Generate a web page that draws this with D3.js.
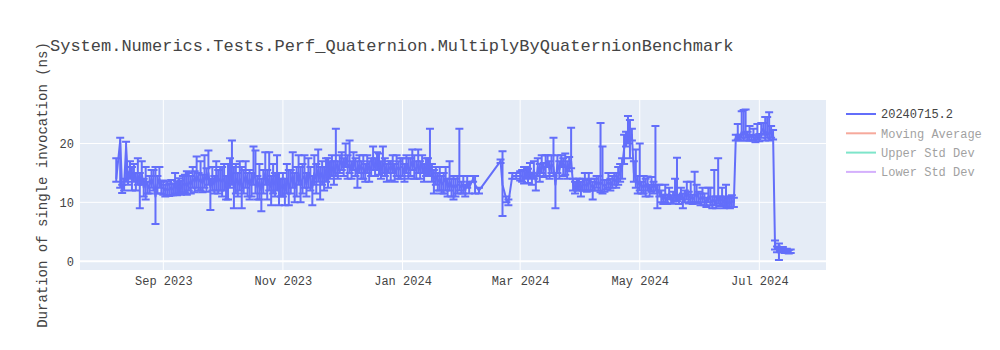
<!DOCTYPE html>
<html>
<head>
<meta charset="utf-8">
<title>Perf_Quaternion.MultiplyByQuaternionBenchmark</title>
<script src="https://d3js.org/d3.v7.min.js"></script>
<style>
  body { margin: 0; background: #fff; }
  text { font-family: "Liberation Mono", "Courier New", monospace; fill: #444; }
</style>
</head>
<body>
<div id="chart"></div>
<script>

// each row: [day of month, duration ns, error plus, error minus]
var aug2023 = [[8,14,3.5,0.5],[10,20.5,0.5,8],[11,12.3,0.7,0.7],[12,13,1,1],[13,19.5,0.8,6],[14,14,1,1],[15,15.5,1.5,1.5],[16,14,2,2],[17,15,1.5,1.5],[18,13.5,1.5,1.5],[19,14.5,3,1.5],[20,13,2,4],[21,15,2,2],[22,12.5,1.5,1.5],[23,14,2,3.5],[24,12.5,1,1],[25,13,1.5,1.5],[26,14,1.5,1.5],[27,13,2.5,1],[28,11,5,4.7],[29,13,1.5,1.5],[30,14,2,1.5],[31,12.5,1,1]];
var sep2023 = [[1,12.5,1.2,1.2],[2,12,1,1],[3,12.3,1.2,1.2],[4,12.1,1,1],[5,12.5,1.3,1.3],[6,12.2,1,1],[7,13,2,1.5],[8,12.4,1.2,1.2],[9,12.8,1.3,1.3],[10,12.5,1.2,1.2],[11,13,1.5,1.5],[12,13.2,1.5,1.5],[13,12.8,2.5,1.5],[14,13.5,1.5,1.5],[15,13,1.5,1.5],[16,14,2,1.5],[17,13.5,1.8,1.8],[18,14.5,3.3,2],[19,13.5,1.5,1.5],[20,14,3,2],[21,13.2,1.5,1.5],[22,14.5,3.5,2],[23,13.8,2,2],[24,15,3.8,2],[25,12.5,1.5,3.8],[26,14,2,2],[27,13,1.5,1.5],[28,14.5,2.5,2.5],[29,13.5,2,2],[30,14,2,2]];
var oct2023 = [[1,13.5,2.5,2.5],[2,14,2.5,2],[3,12.5,2,2],[4,13.5,3,3],[5,14.5,3,2],[6,15,5.5,2],[7,12.5,3.5,3.5],[8,14,2.5,2.5],[9,13,2,2],[10,14,3,2],[11,12.5,3.5,3.5],[12,13.5,2,2],[13,14.5,2.5,2],[14,13,2,2],[15,14,1.5,3.5],[16,13,2,2],[17,15,4.5,2],[18,14,4.8,2.5],[19,12.5,2,2],[20,13.5,3,3],[21,12,2,3.5],[22,13.5,2,2],[23,15,3.5,2],[24,13,2.5,2.5],[25,14,4.5,2],[26,12.5,2,3],[27,14,2.5,2.5],[28,13,2,2],[29,14.5,3.5,2.5],[30,13,2,3.5],[31,12.5,1.5,1.5]];
var nov2023 = [[1,13,2,2],[2,12,2,2.5],[3,14,2.5,2.5],[4,12.5,3,3],[5,13.5,2,2],[6,14.5,4,2],[7,12.5,2.5,2.5],[8,13.5,2.5,2.5],[9,15,3,2],[10,13,3,3],[11,14,2.5,2.5],[12,14.5,3.5,2],[13,13,2,2],[14,15,2.5,2.5],[15,14,2,2],[16,12.5,2,3],[17,15,3,2],[18,14,2.5,2.5],[19,15.5,3.5,2],[20,14,2,3.5],[21,15,2,2],[22,14,2,2],[23,15.5,2,2],[24,14.5,3,2],[25,15.5,1.5,1.5],[26,16,2,1.5],[27,15,2,2],[28,16.5,6,2],[29,15.5,1.5,1.5],[30,16.5,1.5,1.5]];
var dec2023 = [[1,17,1.5,1.5],[2,16,1.5,1.5],[3,17.5,2.5,1.5],[4,16,2,2],[5,16.5,4,1.5],[6,15.5,1.5,1.5],[7,17,1.5,1.5],[8,16,1.5,1.5],[9,15,2,2.5],[10,16.5,1.5,1.5],[11,15.5,1.5,1.5],[12,16,2,2],[13,15,1.5,1.5],[14,16.5,1.5,1.5],[15,15.5,1.5,2],[16,16,1.5,1.5],[17,17,2.5,1.5],[18,16,1.5,1.5],[19,17,1.5,1.5],[20,16.5,1.8,1.8],[21,15.5,1.5,1.5],[22,16.5,3,1.5],[23,16,1.5,1.5],[24,15,1.5,1.5],[25,16,1,1],[26,15.5,1.5,1.8],[27,16.5,1.5,1.5],[28,15,1.5,1.5],[29,16,2,1.5],[30,15.5,1.5,1.5],[31,16,1.5,2]];
var jan2024 = [[1,16,1.5,1.5],[2,15,1.5,1.5],[3,16.5,1.5,1.5],[4,15.5,2,1.5],[5,16,1.5,1.5],[6,17,2,1.5],[7,16,2,2],[8,15.5,1.5,1.5],[9,16.5,2.5,1.5],[10,15.5,1.5,1.5],[11,16.5,1.5,1.5],[12,15,1.5,1.5],[13,16,1.5,1.5],[14,16,1.5,1.5],[15,16,6.5,1.5],[16,15,1.5,1.5],[17,14,1.5,2.5],[18,14.5,1.5,1.5],[19,13.5,1.5,1.5],[20,14,2,2],[21,13,1.5,1.5],[22,13.5,1.5,2],[23,14,2,2],[24,12.5,1.5,1.5],[25,13.5,3.5,1.5],[26,12.5,1.5,1.5],[27,13,1.5,2.5],[28,12.5,1.5,1.5],[29,13,1.5,1.5],[30,13,9.5,1],[31,12.5,1,1]];
var feb2024 = [[1,13,1.5,1.5],[2,12,1,1],[3,13.5,1,1],[4,12.5,1,1],[6,14,0.5,0.5],[7,13,1.5,1.5],[9,12,0.5,0.5],[20,17,0.3,0.3],[21,13,5.7,5.3],[23,10.5,0.5,0.5],[24,10,0.5,0.5],[26,14.5,0.5,0.5],[28,14.5,0.5,0.5]];
var mar2024 = [[1,14.5,0.8,0.8],[2,14.5,1,1],[3,14,2,0.8],[4,15,1,1],[5,14.5,1.2,1.2],[6,15.5,1.2,1.2],[7,14,1,1],[8,15.5,1.5,1.5],[9,13.5,1,1.5],[10,16,1.5,1.5],[11,15,1.5,1.5],[12,16.5,1.5,1.5],[13,15.5,1.2,1.2],[14,16,2,1.5],[15,17,1,1],[16,15.5,1.5,1.5],[17,16.5,1.5,1.5],[18,16,5,1.5],[19,13,2,4],[20,16.5,1.5,1.5],[21,15.5,1.5,1.5],[22,17,1,1],[23,16,1.5,1.5],[24,16.5,1.8,1.8],[25,15.5,1.5,1.5],[26,16.5,1.2,1.2],[27,17,5.7,1.2],[28,13,1,1],[29,12.5,1,1],[30,13,1,1],[31,13,1,1]];
var apr2024 = [[1,12.5,1,1.5],[2,13,1,1],[3,13,2,1],[4,12.8,1,1],[5,13.5,1.5,1.5],[6,13,1,1],[7,12.5,1,2],[8,13,1,1],[9,13.5,1,1],[10,13,1.5,1],[11,13.5,10,1.8],[12,13,6.5,1.5],[13,12.8,1,1],[14,13,0.8,0.8],[15,13.5,1.5,1],[16,13,1,1],[17,13.5,1,1],[18,14,1,1],[19,13.5,1.5,1],[20,14.5,1.5,1.5],[21,15,1.5,1.5],[22,16,1.5,2],[23,19,2.5,2.5],[24,21,1,1.5],[25,22,2.7,2],[26,20.5,3.5,3],[27,21.5,1,1],[28,15,2,1.5],[29,14,5,1.5],[30,13,1.5,1.5]];
var may2024 = [[1,13.5,6.5,1.5],[2,12.5,1,1],[3,13,1.5,1.5],[4,12.5,1.5,1.5],[5,13.2,1.2,1.2],[6,12,1,1],[7,12.8,1.5,1],[8,12.5,1,1],[9,13,10,1],[10,11.5,1.5,2.5],[11,12,1,1],[12,11,1,1],[13,10.5,0.8,0.8],[14,11,2,1],[15,10.5,0.8,0.8],[16,11.5,1,1],[17,10.5,0.7,0.7],[18,10.8,1,1],[19,11,3,0.8],[20,11,6.6,0.8],[21,10.5,0.8,0.8],[22,11.5,1,1],[23,10.5,1,1.5],[24,11,1,1],[25,11.5,2,1],[26,10.8,1,1],[27,11,2.5,1],[28,10.5,0.8,0.8],[29,11,4.2,1],[30,11.5,1.5,1.5],[31,10.8,1,1]];
var jun2024 = [[1,10.5,1,1],[2,11,1.5,1],[3,10.5,1,1],[4,10,0.8,0.8],[5,11,1.5,1],[6,10.5,2,1],[7,10,1,1],[8,10.5,5,1],[9,10,1,1],[10,11,6.5,1.2],[11,10.2,0.8,0.8],[12,10.5,2,1],[13,10,1,1],[14,10.5,2.5,1.2],[15,10,0.8,0.8],[16,9.8,1.2,0.8],[17,10.2,1,1],[18,10,0.8,0.8],[19,21,0.5,0.5],[20,21.5,1.8,0.8],[21,21,0.5,0.5],[22,22,3.5,1],[23,21.5,4.2,1],[24,22,3.8,1],[25,21,1,0.5],[26,21.5,1.5,1],[27,21,0.5,0.5],[28,21.2,1.3,0.7],[29,20.8,0.6,0.6],[30,21.5,1.8,0.8]];
var jul2024 = [[1,21,0.6,0.6],[2,22,1.5,1],[3,22.5,1,1],[4,21.5,3,1],[5,22,2.5,1],[6,21.5,3.8,1],[7,22,1,1],[8,21.5,0.8,0.8],[9,2.5,1,0.5],[10,2,0.5,0.5],[11,2.2,0.8,2],[12,1.8,0.3,0.3],[13,2,0.4,0.4],[14,1.7,0.3,0.3],[15,1.8,0.3,0.3],[16,1.6,0.3,0.3],[17,1.7,0.3,0.3]];

var months = [["2023-08", aug2023], ["2023-09", sep2023], ["2023-10", oct2023], ["2023-11", nov2023],
              ["2023-12", dec2023], ["2024-01", jan2024], ["2024-02", feb2024], ["2024-03", mar2024],
              ["2024-04", apr2024], ["2024-05", may2024], ["2024-06", jun2024], ["2024-07", jul2024]];

var tickDates = ["2023-09-01", "2023-11-01", "2024-01-01", "2024-03-01", "2024-05-01", "2024-07-01"];
var yTicks = [0, 10, 20];
var legendNames = ["20240715.2", "Moving Average", "Upper Std Dev", "Lower Std Dev"];
var legendColors = ["#636efa", "#EF553B", "#00cc96", "#ab63fa"];
var chartTitle = "System.Numerics.Tests.Perf_Quaternion.MultiplyByQuaternionBenchmark";
var yTitle = "Duration of single invocation (ns)";

(function() {
    var parseDay = d3.utcParse("%Y-%m-%d");
    var data = [];
    months.forEach(function(m) {
        m[1].forEach(function(r) {
            var dd = r[0] < 10 ? "0" + r[0] : "" + r[0];
            data.push({date: parseDay(m[0] + "-" + dd), v: r[1], up: r[2], dn: r[3]});
        });
    });

    var W = 1000, H = 350;
    var pl = 80, pr = 826, pt = 100, pb = 270;

    var svg = d3.select("#chart").append("svg").attr("width", W).attr("height", H);

    var x = d3.scaleUtc()
        .domain([Date.UTC(2023, 6, 20, 12), Date.UTC(2024, 7, 4)])
        .range([pl, pr]);
    var y = d3.scaleLinear().domain([-1.5, 27.4]).range([pb, pt]);

    // plot background
    svg.append("rect").attr("x", pl).attr("y", pt)
        .attr("width", pr - pl).attr("height", pb - pt).attr("fill", "#e5ecf6");

    var grid = svg.append("g");
    grid.selectAll("line.vx").data(tickDates.map(parseDay)).enter().append("line")
        .attr("x1", function(d){ return x(d); }).attr("x2", function(d){ return x(d); })
        .attr("y1", pt).attr("y2", pb)
        .attr("stroke", "#fff").attr("stroke-width", 1);
    grid.selectAll("line.hy").data(yTicks).enter().append("line")
        .attr("x1", pl).attr("x2", pr)
        .attr("y1", function(d){ return y(d); }).attr("y2", function(d){ return y(d); })
        .attr("stroke", "#fff").attr("stroke-width", function(d){ return d === 0 ? 2 : 1; });

    // axes
    var xAxis = d3.axisBottom(x).tickValues(tickDates.map(parseDay))
        .tickFormat(d3.utcFormat("%b %Y")).tickSize(0).tickPadding(6);
    var gx = svg.append("g").attr("transform", "translate(0," + pb + ")").call(xAxis);
    var yAxis = d3.axisLeft(y).tickValues(yTicks).tickSize(0).tickPadding(6);
    var gy = svg.append("g").attr("transform", "translate(" + pl + ",0)").call(yAxis);
    [gx, gy].forEach(function(g) {
        g.select(".domain").remove();
        g.selectAll("text").style("font-size", "12px").attr("fill", "#444")
            .style("font-family", "'Liberation Mono', 'Courier New', monospace");
    });

    // clip
    svg.append("clipPath").attr("id", "plotclip").append("rect")
        .attr("x", pl).attr("y", pt).attr("width", pr - pl).attr("height", pb - pt);
    var plot = svg.append("g").attr("clip-path", "url(#plotclip)");

    var blue = legendColors[0];

    // error bars
    var eb = plot.append("g").attr("stroke", blue).attr("stroke-width", 2).attr("fill", "none");
    eb.selectAll("path").data(data).enter().append("path")
        .attr("d", function(d) {
            var cx = x(d.date), yt = y(d.v + d.up), yb = y(d.v - d.dn);
            return "M" + (cx - 4) + "," + yt + "H" + (cx + 4) + "M" + cx + "," + yt + "V" + yb +
                   "M" + (cx - 4) + "," + yb + "H" + (cx + 4);
        });

    // main line
    var line = d3.line().x(function(d){ return x(d.date); }).y(function(d){ return y(d.v); });
    plot.append("path").datum(data).attr("d", line)
        .attr("fill", "none").attr("stroke", blue).attr("stroke-width", 2)
        .attr("stroke-linejoin", "round");

    // title
    svg.append("text").attr("x", 50).attr("y", 51).text(chartTitle)
        .style("font-size", "17px");

    // y title
    svg.append("text")
        .attr("transform", "translate(47,185) rotate(-90)")
        .attr("text-anchor", "middle")
        .style("font-size", "14px")
        .text(yTitle);

    // legend
    var lg = svg.append("g").selectAll("g").data(legendNames).enter().append("g")
        .attr("transform", function(d, i){ return "translate(846," + (114 + i * 19.3) + ")"; })
        .attr("opacity", function(d, i){ return i === 0 ? 1 : 0.5; });
    lg.append("line").attr("x1", 0).attr("x2", 30).attr("y1", 0).attr("y2", 0)
        .attr("stroke", function(d, i){ return legendColors[i]; }).attr("stroke-width", 2);
    lg.append("text").attr("x", 35).attr("dy", "0.35em").style("font-size", "12px")
        .text(function(d){ return d; });
})();

</script>
</body>
</html>
